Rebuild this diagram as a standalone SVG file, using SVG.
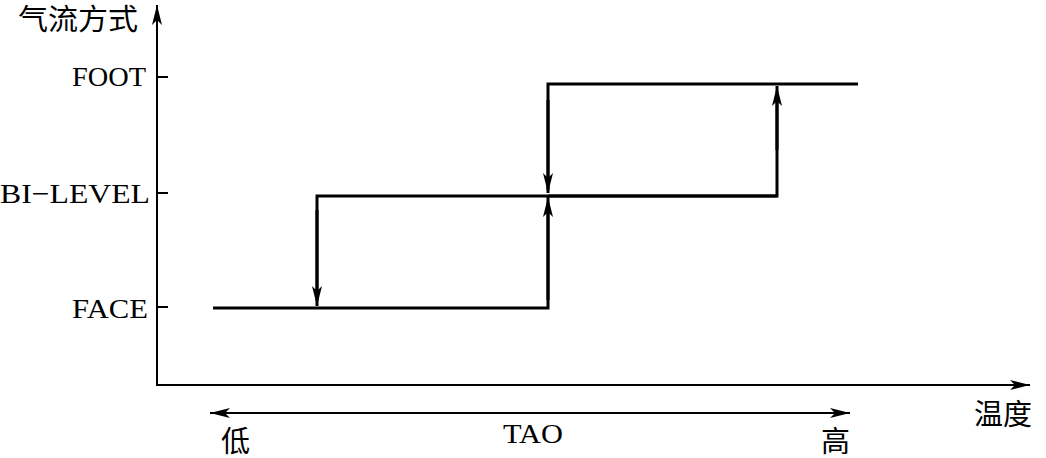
<svg xmlns="http://www.w3.org/2000/svg" width="1046" height="458" viewBox="0 0 1046 458">
<style>
.ln{stroke:#000;stroke-width:3;fill:none}
.ax{stroke:#000;stroke-width:2;fill:none}
.lat{font-family:"Liberation Serif",serif;font-size:28px;fill:#000}
.cjk{font-family:"Liberation Serif","Noto Sans CJK SC",serif;font-size:29px;fill:#000}
</style>
<defs>
<marker id="ah" viewBox="0 0 20 10" refX="20" refY="5" markerWidth="20" markerHeight="10" markerUnits="userSpaceOnUse" orient="auto">
<path d="M0,0 L20,5 L0,10 L5,5 Z" fill="#000"/>
</marker>
<marker id="ahs" viewBox="0 0 20 10" refX="20" refY="5" markerWidth="20" markerHeight="10" markerUnits="userSpaceOnUse" orient="auto-start-reverse">
<path d="M0,0 L20,5 L0,10 L5,5 Z" fill="#000"/>
</marker>
</defs>
<g id="axes">
<line class="ax" x1="157" y1="386" x2="157" y2="5" marker-end="url(#ah)"/>
<line class="ax" x1="156" y1="385" x2="1030" y2="385" marker-end="url(#ah)"/>
<line class="ax" x1="157" y1="77" x2="168" y2="77"/>
<line class="ax" x1="157" y1="193" x2="168" y2="193"/>
<line class="ax" x1="157" y1="307" x2="168" y2="307"/>
<line class="ax" x1="210" y1="413" x2="850" y2="413" marker-start="url(#ahs)" marker-end="url(#ahs)"/>
</g>
<g id="labels">
<text class="cjk" x="18" y="30" textLength="120" lengthAdjust="spacingAndGlyphs">气流方式</text>
<text class="lat" x="72" y="86" textLength="74" lengthAdjust="spacingAndGlyphs">FOOT</text>
<text class="lat" x="0" y="203" textLength="150" lengthAdjust="spacingAndGlyphs">BI−LEVEL</text>
<text class="lat" x="72" y="318" textLength="76" lengthAdjust="spacingAndGlyphs">FACE</text>
<text class="cjk" x="974" y="425">温度</text>
<text class="cjk" x="221" y="452">低</text>
<text class="lat" x="503" y="443" textLength="60" lengthAdjust="spacingAndGlyphs">TAO</text>
<text class="cjk" x="821" y="452">高</text>
</g>
<g id="connectors">
<polyline class="ln" points="213,308 548,308 548,205"/>
<line class="ln" x1="548" y1="300" x2="548" y2="197" marker-end="url(#ah)"/>
<polyline class="ln" points="317,300 317,196 777,196 777,95"/>
<line class="ln" x1="317" y1="210" x2="317" y2="306" marker-end="url(#ah)"/>
<line class="ln" x1="777" y1="150" x2="777" y2="86" marker-end="url(#ah)"/>
<polyline class="ln" points="548,190 548,84 858,84"/>
<line class="ln" x1="548" y1="100" x2="548" y2="193" marker-end="url(#ah)"/>
<line class="ln" x1="548" y1="196" x2="777" y2="196"/>
</g>
</svg>
